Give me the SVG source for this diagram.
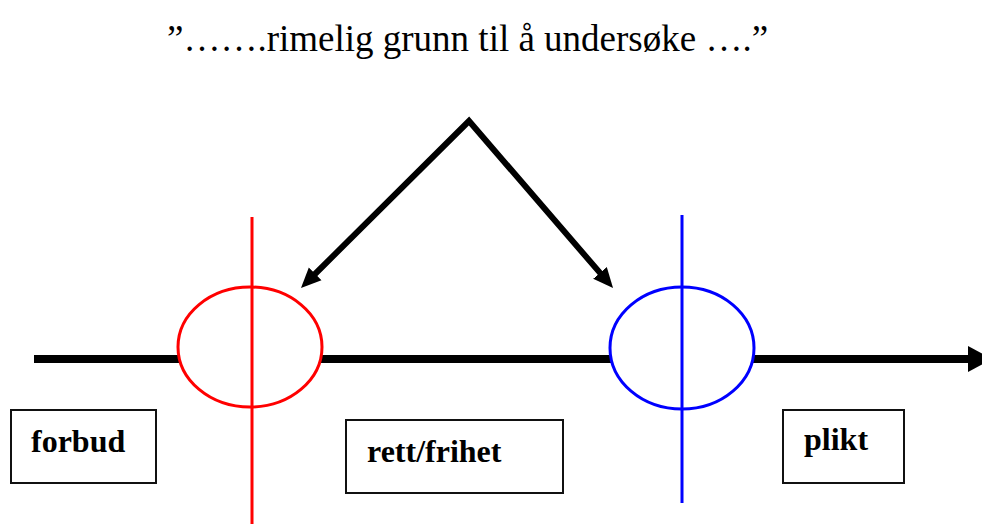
<svg xmlns="http://www.w3.org/2000/svg" width="982" height="524" viewBox="0 0 982 524">
<style>
.box{fill:#fff;stroke:#111;stroke-width:2}
.lbl{font-family:"Liberation Serif","Tinos","Times New Roman","DejaVu Serif",serif;font-weight:bold;font-size:32px;fill:#000}
.title{font-family:"Liberation Serif","Tinos","Times New Roman","DejaVu Serif",serif;font-size:37px;fill:#000}
.conn{stroke:#000;fill:none}
</style>
<defs>
<marker id="ah" viewBox="0 0 20 20" markerWidth="20" markerHeight="20" markerUnits="userSpaceOnUse" refX="8" refY="10" orient="auto-start-reverse">
<path d="M0,1 L20,10 L0,19 Z" fill="#000"/>
</marker>
</defs>
<text class="title" x="167" y="51" font-family="Liberation Serif, serif">”…….rimelig grunn til å undersøke ….”</text>
<g id="connectors">
<line class="conn" x1="34" y1="359" x2="972" y2="359" stroke-width="8"/>
<polygon points="968,346 992,359 968,372" fill="#000"/>
<polyline class="conn" points="309.5,279.5 469,121 605.2,278.9" stroke-width="6" stroke-linejoin="miter" marker-start="url(#ah)" marker-end="url(#ah)"/>
</g>
<g id="red-limit">
<ellipse cx="250" cy="347" rx="72" ry="60" fill="#fff" stroke="#f00" stroke-width="3"/>
<line x1="252" y1="217" x2="252" y2="524" stroke="#f00" stroke-width="3"/>
</g>
<g id="blue-limit">
<ellipse cx="682" cy="348" rx="72" ry="61" fill="#fff" stroke="#00f" stroke-width="3"/>
<line x1="682" y1="215" x2="682" y2="503" stroke="#00f" stroke-width="3"/>
</g>
<g id="forbud">
<rect class="box" x="11" y="410" width="145" height="73"/>
<text class="lbl" x="31" y="452">forbud</text>
</g>
<g id="rett-frihet">
<rect class="box" x="346" y="420" width="217" height="73"/>
<text class="lbl" x="367" y="462">rett/frihet</text>
</g>
<g id="plikt">
<rect class="box" x="783" y="410" width="121" height="73"/>
<text class="lbl" x="804" y="450">plikt</text>
</g>
</svg>
